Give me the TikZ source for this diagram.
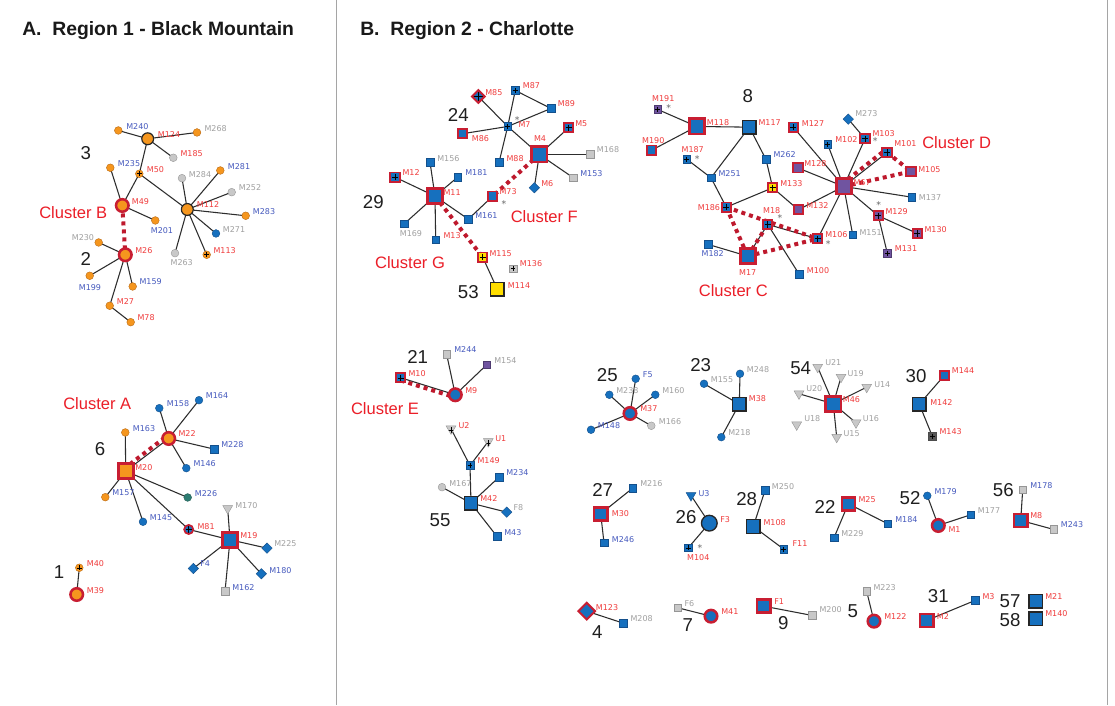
\documentclass[tikz,border=0pt]{standalone}
\usepackage{fontspec}
\setmainfont{Liberation Sans}
\newfontfamily\lf{DejaVu Sans}
\usetikzlibrary{shapes.geometric}
\pgfdeclarelayer{bg}
\pgfsetlayers{bg,main}
\definecolor{orng}{RGB}{245,150,30}
\definecolor{orngD}{RGB}{185,105,20}
\definecolor{blu}{RGB}{22,112,190}
\definecolor{bluD}{RGB}{20,80,140}
\definecolor{gry}{RGB}{200,200,200}
\definecolor{gryD}{RGB}{150,150,150}
\definecolor{prp}{RGB}{112,84,160}
\definecolor{yel}{RGB}{255,222,0}
\definecolor{tealc}{RGB}{45,125,115}
\definecolor{dkg}{RGB}{85,85,85}
\definecolor{redF}{RGB}{200,30,50}
\definecolor{labR}{RGB}{240,60,60}
\definecolor{labB}{RGB}{70,90,190}
\definecolor{labG}{RGB}{160,160,160}
\definecolor{cluR}{RGB}{235,30,40}
\definecolor{dashR}{RGB}{190,25,45}
\definecolor{edgeC}{RGB}{45,45,45}
\definecolor{frameC}{RGB}{165,165,165}
\tikzset{
 nb/.style={inner sep=0pt, outer sep=0pt},
 oc/.style={nb, circle, minimum size=5.8pt, fill=orng, draw=orngD, line width=0.3pt},
 ocB/.style={nb, circle, minimum size=8.9pt, fill=orng, draw=black!85, line width=0.9pt},
 ocR/.style={nb, circle, minimum size=9.4pt, fill=orng, draw=redF, line width=1.9pt},
 bc/.style={nb, circle, minimum size=5.8pt, fill=blu, draw=bluD, line width=0.3pt},
 bcR/.style={nb, circle, minimum size=9.4pt, fill=blu, draw=redF, line width=1.9pt},
 bcRs/.style={bcR, minimum size=6.8pt, line width=1.3pt},
 bcB/.style={nb, circle, minimum size=11.8pt, fill=blu, draw=black!85, line width=1pt},
 gc/.style={nb, circle, minimum size=5.8pt, fill=gry, draw=gryD, line width=0.3pt},
 tc/.style={gc, fill=tealc, draw=tealc!70!black},
 bs/.style={nb, rectangle, minimum size=5.8pt, fill=blu, draw=bluD, line width=0.3pt},
 gs/.style={bs, fill=gry, draw=gryD},
 ps/.style={bs, fill=prp, draw=prp!70!black},
 dks/.style={bs, fill=dkg, draw=black!70},
 bsB/.style={nb, rectangle, minimum size=10.2pt, fill=blu, draw=black!85, line width=1pt},
 ysB/.style={bsB, fill=yel},
 rsS/.style={nb, rectangle, minimum size=6.9pt, fill=blu, draw=redF, line width=1.4pt},
 rsM/.style={nb, rectangle, minimum size=9.8pt, fill=blu, draw=redF, line width=1.9pt},
 rsL/.style={nb, rectangle, minimum size=11.4pt, fill=blu, draw=redF, line width=2.1pt},
 dia/.style={nb, diamond, minimum size=7.8pt, fill=blu, draw=bluD, line width=0.3pt},
 rdia/.style={nb, diamond, minimum size=#1, fill=blu, draw=redF, line width=1.5pt},
 tri/.style={nb, regular polygon, regular polygon sides=3, shape border rotate=180, minimum size=8.5pt, fill=gry, draw=gryD, line width=0.3pt},
 btri/.style={tri, fill=blu, draw=bluD},
 pl/.style={path picture={\draw[line width=0.4pt,black] ([yshift=-1.1pt]path picture bounding box.north) -- ([yshift=1.1pt]path picture bounding box.south) ([xshift=1.1pt]path picture bounding box.west) -- ([xshift=-1.1pt]path picture bounding box.east);}},
 lab/.style={font=\lf\fontsize{6}{7}\selectfont, inner sep=0pt},
 num/.style={font=\fontsize{14}{16}\selectfont, inner sep=0pt, text=black!88},
 clu/.style={font=\fontsize{12.4}{14}\selectfont, inner sep=0pt, text=cluR},
 ttl/.style={font=\bfseries\fontsize{14.5}{17}\selectfont, inner sep=0pt, text=black!90, anchor=west},
 ast/.style={font=\lf\fontsize{7}{8}\selectfont, inner sep=0pt, text=black!60},
 ed/.style={draw=edgeC, line width=0.8pt},
 cl/.style={draw=dashR, line width=3pt, dash pattern=on 3pt off 3pt},
}
\newcommand\tl[4][west]{\node[lab,anchor=#1,text=#2] (t#3) at (#4) {#3};}
\newcommand\nm[2]{\node[num] (n#1) at (#2) {#1};}
\begin{document}
\begin{tikzpicture}[x=0.75pt,y=-0.75pt]
\begin{pgfonlayer}{bg}
\path[use as bounding box, fill=white] (0,0) rectangle (1115,705);
\end{pgfonlayer}
\draw[frameC, line width=0.7pt] (336,0) -- (336,705);
\draw[frameC, line width=0.7pt] (1107,0) -- (1107,705);
\node[ttl] (tA) at (22,30) {A.\ \ Region 1 - Black Mountain};
\node[ttl] (tB) at (360,30) {B.\ \ Region 2 - Charlotte};

% ---------- Panel A top ----------
\node[ocB] (M124) at (147.7,138.3) {};
\node[oc] (M240) at (118.3,130) {};
\node[oc] (M268) at (197,132) {};
\node[gc] (M185) at (173.3,157.3) {};
\node[oc,pl] (M50) at (139.3,173.3) {};
\node[oc] (M235) at (110.3,167.3) {};
\node[ocR] (M49) at (122.3,205) {};
\node[oc] (M201) at (155.3,220) {};
\node[ocB] (M112) at (187.3,209) {};
\node[gc] (M284) at (182,177.7) {};
\node[oc] (M281) at (220.3,170) {};
\node[gc] (M252) at (231.7,191.7) {};
\node[oc] (M283) at (245.7,215.3) {};
\node[bc] (M271) at (216,233) {};
\node[oc,pl] (M113) at (206.7,254.3) {};
\node[gc] (M263) at (175,252.7) {};
\node[ocR] (M26) at (125.3,254.3) {};
\node[oc] (M230) at (98.7,242) {};
\node[oc] (M199) at (89.7,275.3) {};
\node[oc] (M159) at (132.7,286) {};
\node[oc] (M27) at (109.7,305.3) {};
\node[oc] (M78) at (130.7,321.7) {};
\tl{labB}{M240}{126,126}
\tl{labR}{M124}{157.7,134}
\tl{labG}{M268}{204.3,127.7}
\tl{labR}{M185}{180.3,152.7}
\tl{labR}{M50}{146.7,168.7}
\tl{labB}{M235}{117.7,163}
\tl{labR}{M49}{131.7,200.7}
\tl[center]{labB}{M201}{162,230}
\tl{labR}{M112}{196.7,204.3}
\tl{labG}{M284}{188.7,173.7}
\tl{labB}{M281}{227.7,165.7}
\tl{labG}{M252}{238.7,187.3}
\tl{labB}{M283}{252.7,211}
\tl{labG}{M271}{222.7,228.7}
\tl{labR}{M113}{213.3,250}
\tl[center]{labG}{M263}{181.7,262}
\tl{labR}{M26}{135,250}
\tl[center]{labG}{M230}{83,236.7}
\tl[center]{labB}{M199}{90,286.7}
\tl{labB}{M159}{139.3,281.3}
\tl{labR}{M27}{116.7,301}
\tl{labR}{M78}{137.3,317.3}
\nm{3}{85.7,152.3}
\nm{2}{85.7,259}
\node[clu] (cB) at (73.3,211.7) {Cluster B};

% ---------- Panel A bottom ----------
\node[bc] (M158) at (159.3,407.7) {};
\node[bc] (M164) at (199,399.7) {};
\node[oc] (M163) at (125.3,432) {};
\node[ocR] (M22) at (168.7,438) {};
\node[bs] (M228) at (214.3,448.7) {};
\node[rsL,fill=orng] (M20) at (125.7,470.7) {};
\node[bc] (M146) at (186.3,467.7) {};
\node[oc] (M157) at (105.3,496.7) {};
\node[tc] (M226) at (187.7,497) {};
\node[tri] (M170) at (227.7,508) {};
\node[bc] (M145) at (143,521.3) {};
\node[bcRs,pl] (M81) at (188.7,529) {};
\node[rsL] (M19) at (230,539.3) {};
\node[dia] (M225) at (267,547.7) {};
\node[dia] (F4) at (193.3,568) {};
\node[dia] (M180) at (261.3,573.3) {};
\node[gs] (M162) at (225,591) {};
\node[oc,pl] (M40) at (79.3,567.3) {};
\node[ocR] (M39) at (76.7,594) {};
\tl{labB}{M158}{166.7,403.3}
\tl{labB}{M164}{205.7,395}
\tl{labB}{M163}{132.7,427.7}
\tl{labR}{M22}{178.3,433.3}
\tl{labB}{M228}{221,444}
\tl{labR}{M20}{135,466.7}
\tl{labB}{M146}{193.3,463.3}
\tl{labB}{M157}{112,492.3}
\tl{labB}{M226}{194.7,493}
\tl{labG}{M170}{235,505}
\tl{labB}{M145}{149.7,517}
\tl{labR}{M81}{197.3,525.7}
\tl{labR}{M19}{240,534.7}
\tl{labG}{M225}{274,542.7}
\tl{labB}{F4}{200,563.3}
\tl{labB}{M180}{269,570}
\tl{labB}{M162}{232,587}
\tl{labR}{M40}{86.7,562.7}
\tl{labR}{M39}{86.7,589.7}
\nm{6}{100,449}
\nm{1}{59,572}
\node[clu] (cA) at (97.3,403.3) {Cluster A};

% ---------- Clusters F / G ----------
\node[rdia=9.5pt,pl] (M85) at (478.3,96) {};
\node[bs,pl] (M87) at (515.3,90) {};
\node[bs] (M89) at (551,108) {};
\node[bs,pl] (M7) at (507.7,126) {};
\node[rsS] (M86) at (462.3,133.3) {};
\node[rsS,pl] (M5) at (568.7,127.3) {};
\node[rsL] (M4) at (539.3,154) {};
\node[gs] (M168) at (590,154) {};
\node[bs] (M88) at (499,162) {};
\node[gs] (M153) at (573.3,177.3) {};
\node[dia] (M6) at (534.3,187.3) {};
\node[bs] (M156) at (430,161.7) {};
\node[bs] (M181) at (457.7,176.7) {};
\node[rsS,pl] (M12) at (395,176.7) {};
\node[rsL] (M11) at (435,195.7) {};
\node[rsS] (M73) at (492.7,195.7) {};
\node[bs] (M161) at (468.3,218.7) {};
\node[bs] (M169) at (404.3,223.3) {};
\node[bs] (M13) at (435.7,239.3) {};
\node[rsS,fill=yel,pl] (M115) at (482.7,256.7) {};
\node[gs,pl] (M136) at (513,268.3) {};
\node[ysB] (M114) at (497.3,288.7) {};
\tl{labR}{M85}{485,92}
\tl{labR}{M87}{522.7,85.3}
\tl{labR}{M89}{557.7,103.3}
\tl{labR}{M7}{518.3,124.3}
\tl{labR}{M86}{471.7,137.7}
\tl{labR}{M5}{575,122.7}
\tl[center]{labR}{M4}{540,138.3}
\tl{labG}{M168}{596.7,149.3}
\tl{labR}{M88}{506.3,157.7}
\tl{labB}{M153}{580,172.7}
\tl{labR}{M6}{541,183.3}
\tl{labG}{M156}{437,158.3}
\tl{labB}{M181}{465,172.3}
\tl{labR}{M12}{402.3,172.3}
\tl{labR}{M11}{443.3,191.7}
\tl{labR}{M73}{499.3,191.3}
\tl{labB}{M161}{475,214.7}
\tl[center]{labG}{M169}{411,233.3}
\tl{labR}{M13}{443.3,235}
\tl{labR}{M115}{489.3,252.7}
\tl{labR}{M136}{519.7,263.3}
\tl{labR}{M114}{507.7,285}
\node[ast] (a1) at (517.3,119.3) {*};
\node[ast] (a2) at (504,203.3) {*};
\nm{24}{458.3,115}
\nm{29}{373.3,201.7}
\nm{53}{468.3,291.7}
\node[clu] (cF) at (544.3,215.7) {Cluster F};
\node[clu] (cG) at (410,261.7) {Cluster G};

% ---------- Clusters C / D ----------
\node[ps,pl] (M191) at (657.7,109) {};
\node[rsL] (M118) at (696.7,126) {};
\node[bsB] (M117) at (749.3,126.7) {};
\node[rsS] (M190) at (651.7,149.7) {};
\node[bs,pl] (M187) at (686.7,158.7) {};
\node[bs] (M262) at (766,159) {};
\node[bs] (M251) at (711,177.3) {};
\node[rsS,fill=yel,pl] (M133) at (772.7,187.3) {};
\node[rsS,pl] (M127) at (793.3,126.7) {};
\node[rsS,fill=prp] (M128) at (798,167.5) {};
\node[rsS,pl] (M186) at (726.3,206.7) {};
\node[rsS,pl] (M18) at (767.7,224) {};
\node[rsS,fill=prp] (M132) at (798.3,209.3) {};
\node[bs] (M182) at (708.3,244) {};
\node[rsL] (M17) at (747.7,255.7) {};
\node[bs] (M100) at (799.3,274) {};
\node[dia] (M273) at (848.3,118.7) {};
\node[bs,pl] (M102) at (827.7,144) {};
\node[rsS,pl] (M103) at (865,138.3) {};
\node[rsS,pl] (M101) at (887,152) {};
\node[rsS,fill=prp] (M105) at (911,171) {};
\node[rsL,fill=prp] (M67) at (843.7,186) {};
\node[bs] (M137) at (911.7,196.7) {};
\node[rsS,fill=prp,pl] (M129) at (878.3,215.3) {};
\node[rsS,fill=prp,pl] (M130) at (917.3,233) {};
\node[rsS,pl] (M106) at (817.7,238.3) {};
\node[bs] (M151) at (852.7,234.3) {};
\node[ps,pl] (M131) at (887.3,252.7) {};
\tl[center]{labR}{M191}{663.3,98.3}
\tl{labR}{M118}{706.7,121.7}
\tl{labR}{M117}{758.3,122.3}
\tl[center]{labR}{M190}{653.3,140}
\tl[center]{labR}{M187}{692.7,149.3}
\tl{labB}{M262}{773.3,154.3}
\tl{labB}{M251}{718.3,172.7}
\tl{labR}{M133}{780,183.3}
\tl{labR}{M127}{801.7,123.3}
\tl{labR}{M128}{804,162.7}
\tl[center]{labR}{M186}{709,206.7}
\tl[center]{labR}{M18}{771.7,210}
\tl{labR}{M132}{806,205.3}
\tl[center]{labB}{M182}{712.7,253.3}
\tl[center]{labR}{M17}{747.7,271.7}
\tl{labR}{M100}{806.7,270}
\tl{labG}{M273}{855,113.3}
\tl{labR}{M102}{835,139.3}
\tl{labR}{M103}{872.3,133.3}
\tl{labR}{M101}{894,143.3}
\tl{labR}{M105}{918,169.3}
\tl{labR}{M67}{853.3,182}
\tl{labG}{M137}{918.7,196.7}
\tl{labR}{M129}{885.3,211.3}
\tl{labR}{M130}{924.3,228.7}
\tl{labR}{M106}{825,234.3}
\tl{labG}{M151}{859.3,232.3}
\tl{labR}{M131}{894.7,248.3}
\node[ast] (a3) at (668.7,107.7) {*};
\node[ast] (a4) at (697.3,158.7) {*};
\node[ast] (a5) at (780,217.3) {*};
\node[ast] (a6) at (875.3,140.7) {*};
\node[ast] (a7) at (878.7,204.7) {*};
\node[ast] (a8) at (828.3,244) {*};
\nm{8}{747.7,96}
\node[clu] (cC) at (733.3,290) {Cluster C};
\node[clu] (cD) at (956.7,142) {Cluster D};

% ---------- 21 / 55 ----------
\node[gs] (M244) at (446.7,354) {};
\node[ps] (M154) at (486.7,364.3) {};
\node[rsS,pl] (M10) at (400.7,377.3) {};
\node[bcR] (M9) at (455.3,394.3) {};
\node[tri,pl] (U2) at (451,428.3) {};
\node[tri,pl] (U1) at (488.3,441) {};
\node[bs,pl] (M149) at (470,465) {};
\node[bs] (M234) at (499,476.7) {};
\node[gc] (M167) at (442,486.7) {};
\node[bsB] (M42) at (471,502.7) {};
\node[dia] (F8) at (506.7,511.7) {};
\node[bs] (M43) at (497,536) {};
\tl{labB}{M244}{454,349.3}
\tl{labG}{M154}{494,360}
\tl{labR}{M10}{408.3,372.7}
\tl{labR}{M9}{465,390}
\tl{labR}{U2}{458.3,425}
\tl{labR}{U1}{495,438.3}
\tl{labR}{M149}{477.3,460}
\tl{labB}{M234}{506,472.3}
\tl{labG}{M167}{449,482.7}
\tl{labR}{M42}{480,498.3}
\tl{labG}{F8}{513.3,506.7}
\tl{labB}{M43}{504,531.7}
\nm{21}{417.7,356.7}
\nm{55}{440,519.3}
\node[clu] (cE) at (385,407.7) {Cluster E};

% ---------- 25 / 23 / 54 / 30 ----------
\node[bc] (F5) at (635.7,378.3) {};
\node[bc] (M238) at (609.3,394.3) {};
\node[bc] (M160) at (655.3,394.3) {};
\node[bcR] (M37) at (630,413) {};
\node[bc] (M148) at (591,429.3) {};
\node[gc] (M166) at (651.3,425.3) {};
\tl{labB}{F5}{642.7,374}
\tl{labG}{M238}{616,390}
\tl{labG}{M160}{662,390}
\tl{labR}{M37}{640,408.3}
\tl{labB}{M148}{597.7,425}
\tl{labG}{M166}{658.7,421}
\nm{25}{607.3,375}
\node[bc] (M248) at (740,373.3) {};
\node[bc] (M155) at (704,383.3) {};
\node[bsB] (M38) at (739.3,403.7) {};
\node[bc] (M218) at (721.3,436.7) {};
\tl{labG}{M248}{746.7,369}
\tl{labG}{M155}{710.7,379}
\tl{labR}{M38}{748.7,398.3}
\tl{labG}{M218}{728,432.3}
\nm{23}{700.7,365}
\node[rsL] (M46) at (833.3,403.3) {};
\node[tri] (U21) at (817.7,366.7) {};
\node[tri] (U20) at (799,393.3) {};
\node[tri] (U18) at (796.7,424.3) {};
\node[tri] (U19) at (841,376.7) {};
\node[tri] (U14) at (866.7,386.7) {};
\node[tri] (U16) at (856,422.3) {};
\node[tri] (U15) at (836.7,436.7) {};
\tl{labR}{M46}{842.7,399}
\tl{labG}{U21}{825,361.7}
\tl{labG}{U20}{806,388.3}
\tl{labG}{U18}{804,418.3}
\tl{labG}{U19}{847.3,373}
\tl{labG}{U14}{874,383.7}
\tl{labG}{U16}{862.7,417.7}
\tl{labG}{U15}{843.3,433.3}
\nm{54}{800.7,367.7}
\node[rsS] (M144) at (944.3,375) {};
\node[bsB] (M142) at (919.3,403.7) {};
\node[dks,pl] (M143) at (932.3,435.7) {};
\tl{labR}{M144}{951.7,370.3}
\tl{labR}{M142}{930,401.7}
\tl{labR}{M143}{939.3,431}
\nm{30}{916,375.7}

% ---------- 27 / 26 / 28 / 22 / 52 / 56 ----------
\node[bs] (M216) at (632.7,487.7) {};
\node[rsM] (M30) at (600.7,513.3) {};
\node[bs] (M246) at (604,542.3) {};
\tl{labG}{M216}{640,483.3}
\tl{labR}{M30}{611.7,513.3}
\tl{labB}{M246}{611.7,539}
\nm{27}{602.7,490}
\node[btri] (U3) at (691,495) {};
\node[bcB] (F3) at (709.3,522.7) {};
\node[bs,pl] (M104) at (688.3,547.3) {};
\tl{labB}{U3}{698.3,492.7}
\tl{labR}{F3}{720,519.3}
\tl[center]{labR}{M104}{698.3,556.7}
\node[ast] (a9) at (700,547.3) {*};
\nm{26}{686,516.7}
\node[bs] (M250) at (765,490) {};
\node[bsB] (M108) at (753.3,526) {};
\node[bs,pl] (F11) at (783.7,548.7) {};
\tl{labG}{M250}{771.7,486}
\tl{labR}{M108}{763.3,521.7}
\tl{labR}{F11}{792.3,543.3}
\nm{28}{746.7,498.3}
\node[rsM] (M25) at (848.3,503.3) {};
\node[bs] (M229) at (834,537.3) {};
\node[bs] (M184) at (887.7,523.3) {};
\tl{labR}{M25}{858.3,499.3}
\tl{labG}{M229}{841,532.7}
\tl{labB}{M184}{895,519}
\nm{22}{825,506.7}
\node[bc] (M179) at (927.3,495.3) {};
\node[bcR] (M1) at (938.3,525) {};
\node[bs] (M177) at (970.7,514.3) {};
\tl{labB}{M179}{934.3,491}
\tl{labR}{M1}{948.3,529.3}
\tl{labG}{M177}{977.7,510}
\nm{52}{910,497.3}
\node[gs] (M178) at (1022.7,489.3) {};
\node[rsM] (M8) at (1020.7,520) {};
\node[gs] (M243) at (1053.7,529) {};
\tl{labB}{M178}{1030,485}
\tl{labR}{M8}{1030,515}
\tl{labB}{M243}{1060.7,524}
\nm{56}{1003.3,490}

% ---------- bottom row ----------
\node[rdia=12.5pt] (M123) at (586.7,610.7) {};
\node[bs] (M208) at (623.3,622.7) {};
\tl{labR}{M123}{595.7,606.7}
\tl{labG}{M208}{630.3,618.3}
\nm{4}{597.3,631.7}
\node[gs] (F6) at (677.7,607.3) {};
\node[bcR] (M41) at (711,615.7) {};
\tl{labG}{F6}{684.3,602.7}
\tl{labR}{M41}{721,611}
\nm{7}{687.7,625}
\node[rsM] (F1) at (763.7,605.7) {};
\node[gs] (M200) at (812.3,615) {};
\tl{labR}{F1}{774,601}
\tl{labG}{M200}{819.3,609}
\nm{9}{783.3,622.7}
\node[gs] (M223) at (866.7,591) {};
\node[bcR] (M122) at (874,620.7) {};
\tl{labG}{M223}{873.3,586.7}
\tl{labR}{M122}{884,616}
\nm{5}{852.7,610.7}
\node[rsM] (M2) at (926.7,620) {};
\node[bs] (M3) at (975,600) {};
\tl{labR}{M2}{936.7,615.7}
\tl{labR}{M3}{982.3,595.7}
\nm{31}{938.3,595.7}
\node[bsB] (M21) at (1035.7,600.7) {};
\node[bsB] (M140) at (1035.7,618.3) {};
\tl{labR}{M21}{1045,596}
\tl{labR}{M140}{1045,613.3}
\nm{57}{1010,601}
\nm{58}{1010,619.3}

% ---------- edges ----------
\begin{pgfonlayer}{bg}
\foreach \a/\b in {M240/M124, M124/M268, M124/M185, M124/M50, M50/M49, M50/M112, M235/M49, M49/M201, M112/M284, M112/M281, M112/M252, M112/M283, M112/M271, M112/M113, M112/M263, M26/M230, M26/M199, M26/M159, M26/M27, M27/M78,
 M158/M22, M164/M22, M22/M228, M22/M146, M20/M22, M163/M20, M20/M157, M20/M145, M20/M226, M20/M81, M81/M19, M19/M170, M19/M225, M19/F4, M19/M180, M19/M162, M40/M39,
 M85/M7, M87/M7, M87/M89, M89/M7, M7/M86, M7/M88, M7/M4, M4/M5, M4/M168, M4/M153, M4/M6, M73/M161, M161/M11, M11/M156, M11/M181, M11/M12, M11/M169, M11/M13, M115/M114,
 M191/M118, M190/M118, M118/M117, M117/M251, M117/M262, M262/M133, M187/M251, M251/M186, M186/M133, M133/M132, M18/M17, M18/M106, M18/M100, M17/M182, M106/M67, M127/M67, M128/M67, M102/M67, M103/M67, M101/M67, M137/M67, M132/M67, M151/M67, M129/M67, M129/M130, M129/M131, M103/M273,
 M244/M9, M154/M9, M10/M9, U2/M149, U1/M149, M149/M42, M234/M42, M167/M42, M42/F8, M42/M43,
 M37/F5, M37/M238, M37/M160, M37/M148, M37/M166, M38/M248, M38/M155, M38/M218,
 M46/U21, M46/U20, M46/U19, M46/U14, M46/U16, M46/U15, M142/M144, M142/M143,
 M216/M30, M30/M246, U3/F3, F3/M104, M250/M108, M108/F11, M25/M229, M25/M184, M179/M1, M1/M177, M178/M8, M8/M243,
 M123/M208, F6/M41, F1/M200, M223/M122, M2/M3}
 \draw[ed] (\a.center) -- (\b.center);
\foreach \a/\b in {M49/M26, M4/M73, M11/M115, M186/M17, M186/M106, M17/M18, M17/M106, M101/M105, M67/M105}
 \draw[cl] (\a.center) -- (\b.center);
\draw[cl] ([shift={(-1.6pt,1.6pt)}]M20.center) -- ([shift={(-1.6pt,1.6pt)}]M22.center);
\draw[cl] ([shift={(0pt,-2pt)}]M10.center) -- ([shift={(0pt,-2pt)}]M9.center);
\draw[cl] ([shift={(-1.6pt,1.6pt)}]M67.center) -- ([shift={(-1.6pt,1.6pt)}]M101.center);
\end{pgfonlayer}
\end{tikzpicture}
\end{document}
